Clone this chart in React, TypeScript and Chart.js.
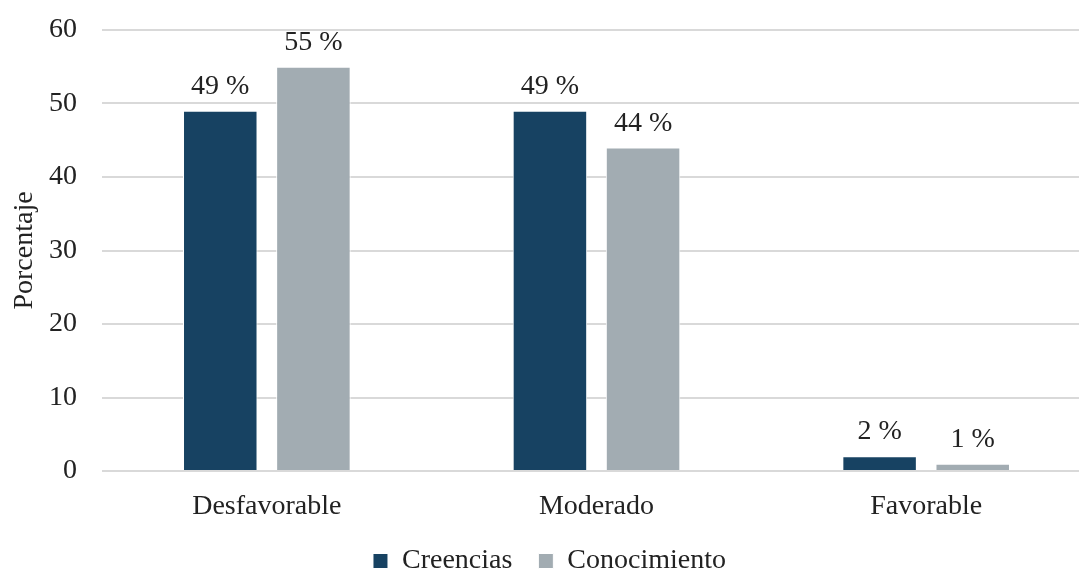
import React, { useEffect, useRef } from "react";
import { Chart, registerables } from "chart.js";

Chart.register(...registerables);

// Categories, series and axis ticks
const categories = ["Desfavorable", "Moderado", "Favorable"];
const creencias = [49, 49, 2];
const conocimiento = [55, 44, 1];
const yTicks = [0, 10, 20, 30, 40, 50, 60];

const FONT = '"Liberation Serif", "Times New Roman", serif';
const SIZE = 28;
const TEXT = "#222222";
const NAVY = "#174262";
const GREY = "#a2acb2";

Chart.defaults.font.family = FONT;
Chart.defaults.font.size = SIZE;
Chart.defaults.color = TEXT;

// Writes "NN %" above every bar
const valueLabels = {
  id: "valueLabels",
  afterDatasetsDraw(chart: any) {
    const ctx = chart.ctx;
    ctx.save();
    ctx.font = `${SIZE}px ${FONT}`;
    ctx.fillStyle = TEXT;
    ctx.textAlign = "center";
    ctx.textBaseline = "alphabetic";
    chart.data.datasets.forEach((ds: any, di: number) => {
      const meta = chart.getDatasetMeta(di);
      meta.data.forEach((bar: any, i: number) => {
        ctx.fillText(`${ds.data[i]} %`, bar.x, bar.y - 17);
      });
    });
    ctx.restore();
  },
};

export default function App() {
  const ref = useRef<HTMLCanvasElement>(null);

  useEffect(() => {
    if (!ref.current) return;
    const chart = new Chart(ref.current, {
      type: "bar",
      data: {
        labels: categories,
        datasets: [
          {
            label: "Creencias",
            data: creencias,
            backgroundColor: NAVY,
            borderColor: "#ffffff",
            borderWidth: 1,
            barPercentage: 0.8,
            categoryPercentage: 0.565,
          },
          {
            label: "Conocimiento",
            data: conocimiento,
            backgroundColor: GREY,
            borderColor: "#ffffff",
            borderWidth: 1,
            barPercentage: 0.8,
            categoryPercentage: 0.565,
          },
        ],
      },
      options: {
        responsive: false,
        animation: false,
        devicePixelRatio: 1,
        layout: {
          autoPadding: false,
          padding: { left: 8, right: 11, top: 30, bottom: 0 },
        },
        plugins: {
          legend: {
            position: "bottom",
            labels: {
              boxWidth: 15,
              boxHeight: 15,
              padding: 26,
              color: TEXT,
              font: { family: FONT, size: SIZE },
            },
          },
          tooltip: { enabled: false },
        },
        scales: {
          x: {
            grid: { display: false },
            border: { display: false },
            ticks: {
              color: TEXT,
              font: { family: FONT, size: SIZE },
              padding: 11,
            },
            afterFit(scale: any) {
              scale.height = 50;
            },
          },
          y: {
            min: 0,
            max: 60,
            afterBuildTicks(scale: any) {
              scale.ticks = yTicks.map((v) => ({ value: v }));
            },
            grid: { color: "#d9d9d9", lineWidth: 2, drawTicks: false },
            border: { display: false },
            ticks: {
              color: TEXT,
              font: { family: FONT, size: SIZE },
              padding: 25,
            },
            title: {
              display: true,
              text: "Porcentaje",
              color: TEXT,
              font: { family: FONT, size: SIZE },
              padding: 0,
            },
            afterFit(scale: any) {
              scale.width = 94;
              scale.paddingTop = 0;
              scale.paddingBottom = 0;
            },
          },
        },
      },
      plugins: [valueLabels],
    });
    return () => chart.destroy();
  }, []);

  return (
    <div
      style={{
        position: "absolute",
        left: 0,
        top: 0,
        width: 1079,
        height: 572,
        overflow: "hidden",
        background: "#ffffff",
      }}
    >
      <canvas ref={ref} width={1102} height={585} />
    </div>
  );
}
